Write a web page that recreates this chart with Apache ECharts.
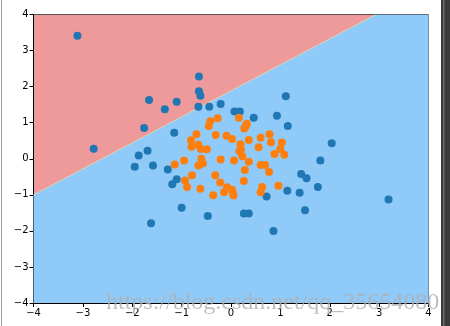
<!DOCTYPE html>
<html>
<head>
<meta charset="utf-8">
<script src="https://cdn.jsdelivr.net/npm/echarts@6/dist/echarts.min.js"></script>
<style>
  html, body { margin: 0; padding: 0; background: #fff; }
  #myChart { width: 450px; height: 326px; }
</style>
</head>
<body>
<div id="myChart"></div>
<script>
// class 0 (blue) points
const blueX = [-3.11, -2.78, -0.65, -0.65, -0.62, -1.66, -1.10, -1.34, -0.66, -0.44, -0.21, -1.76, -1.15, -1.87, -1.69,
  1.11, 0.07, 0.18, 0.46, 0.93, 1.15, 2.04, 1.81,
  -1.95, -1.58, -1.28, -1.10, -1.19, -1.00, -0.47, -1.62,
  1.42, 1.53, 1.76, 1.14, 1.39, 0.72, 3.19, 1.50, 0.26, 0.36, 0.86]
const blueY = [3.41, 0.28, 2.28, 1.87, 1.75, 1.63, 1.58, 1.37, 1.44, 1.44, 1.52, 0.85, 0.72, 0.09, 0.22,
  1.73, 1.31, 1.31, 1.14, 1.19, 0.91, 0.43, -0.05,
  -0.22, -0.19, -0.30, -0.57, -0.71, -1.36, -1.59, -1.79,
  -0.42, -0.54, -0.78, -0.89, -0.94, -1.05, -1.13, -1.43, -1.52, -1.52, -2.00]
// class 1 (orange) points
const orangeX = [-0.42, -0.45, -0.27, -0.70, -0.31, -0.09, -0.81, -0.66, -0.80, -0.61, -0.49, -0.95, -0.60, -0.21,
  0.16, 0.32, 0.30, 0.27, 0.02, 0.78, 0.60, 0.81, 1.03, 0.36, 0.19, 0.56, 1.00, 0.17, 0.20, 0.88, 1.08, 0.23, 0.06, 0.36,
  -1.14, -0.66, -0.57, -0.79, -0.32, -0.93, -0.22, -0.89, -0.62, -0.36, -0.14, -0.08,
  0.60, 0.69, 0.77, 0.28, 0.26, 0.02, 0.04, 0.05, 0.63, 0.60, 0.96]
const orangeY = [1.04, 0.91, 1.12, 0.68, 0.66, 0.64, 0.51, 0.39, 0.33, 0.27, 0.26, -0.05, 0.00, -0.02,
  1.14, 0.97, 0.91, 0.84, 0.55, 0.68, 0.58, 0.46, 0.45, 0.52, 0.40, 0.32, 0.27, 0.21, 0.26, 0.13, 0.11, 0.07, -0.05, -0.08,
  -0.16, -0.19, -0.13, -0.46, -0.46, -0.60, -0.66, -0.78, -0.83, -1.01, -0.93, -0.79,
  -0.17, -0.17, -0.37, -0.31, -0.62, -0.86, -0.94, -1.02, -0.78, -0.93, -0.75]
// decision boundary (below it: blue region)
const boundaryX = [-4, 2.93, 4]
const boundaryY = [-1, 4, 4]
const ticks = [-4, -3, -2, -1, 0, 1, 2, 3, 4]

function zip(xs, ys) { return xs.map((x, i) => [x, ys[i]]) }
const fmt = v => String(v).replace('-', '\u2212')

const myChart = echarts.init(document.getElementById('myChart'))
const axisCommon = {
  type: 'value', min: ticks[0], max: ticks[ticks.length - 1], interval: 1,
  splitLine: { show: false },
  axisLine: { show: true, onZero: false, lineStyle: { color: '#000', width: 1 } },
  axisTick: { show: true, length: 4, lineStyle: { color: '#000' } },
  axisLabel: { color: '#000', fontSize: 10, fontFamily: 'DejaVu Sans', formatter: fmt, margin: 5 }
}
const option = {
  animation: false,
  grid: { left: 33.5, right: 21.5, top: 14.5, bottom: 23, show: true,
    backgroundColor: '#EF9A9A', borderColor: '#555', borderWidth: 1 },
  xAxis: axisCommon,
  yAxis: axisCommon,
  series: [
    {
      type: 'line', data: zip(boundaryX, boundaryY), symbol: 'none', z: 1,
      lineStyle: { width: 0 },
      areaStyle: { color: '#90CAF9', opacity: 1, origin: 'start' }
    },
    {
      type: 'line', data: zip(boundaryX.slice(0, 2), boundaryY.slice(0, 2)), symbol: 'none', z: 2,
      lineStyle: { color: '#FFF59D', width: 0.8, opacity: 0.6 }
    },
    { type: 'scatter', data: zip(blueX, blueY), symbolSize: 8, z: 3,
      itemStyle: { color: '#1f77b4', opacity: 1 } },
    { type: 'scatter', data: zip(orangeX, orangeY), symbolSize: 8, z: 3,
      itemStyle: { color: '#ff7f0e', opacity: 1 } }
  ],
  graphic: [
    { type: 'rect', left: 1, top: 0, shape: { width: 1, height: 326 }, style: { fill: '#a0a0a0' } },
    { type: 'rect', left: 441, top: 0, shape: { width: 9, height: 326 }, style: { fill: '#3c3c3c' } },
    { type: 'rect', left: 443, top: 0, shape: { width: 1.5, height: 326 }, style: { fill: '#6a6a6a' } },
    { type: 'text', left: 106, top: 291, z: 10,
      style: { text: 'https://blog.csdn.net/qq_35654080', fill: 'rgba(175,175,175,0.8)',
        font: '24px "Liberation Serif"' } }
  ]
}
myChart.setOption(option)
</script>
</body>
</html>
